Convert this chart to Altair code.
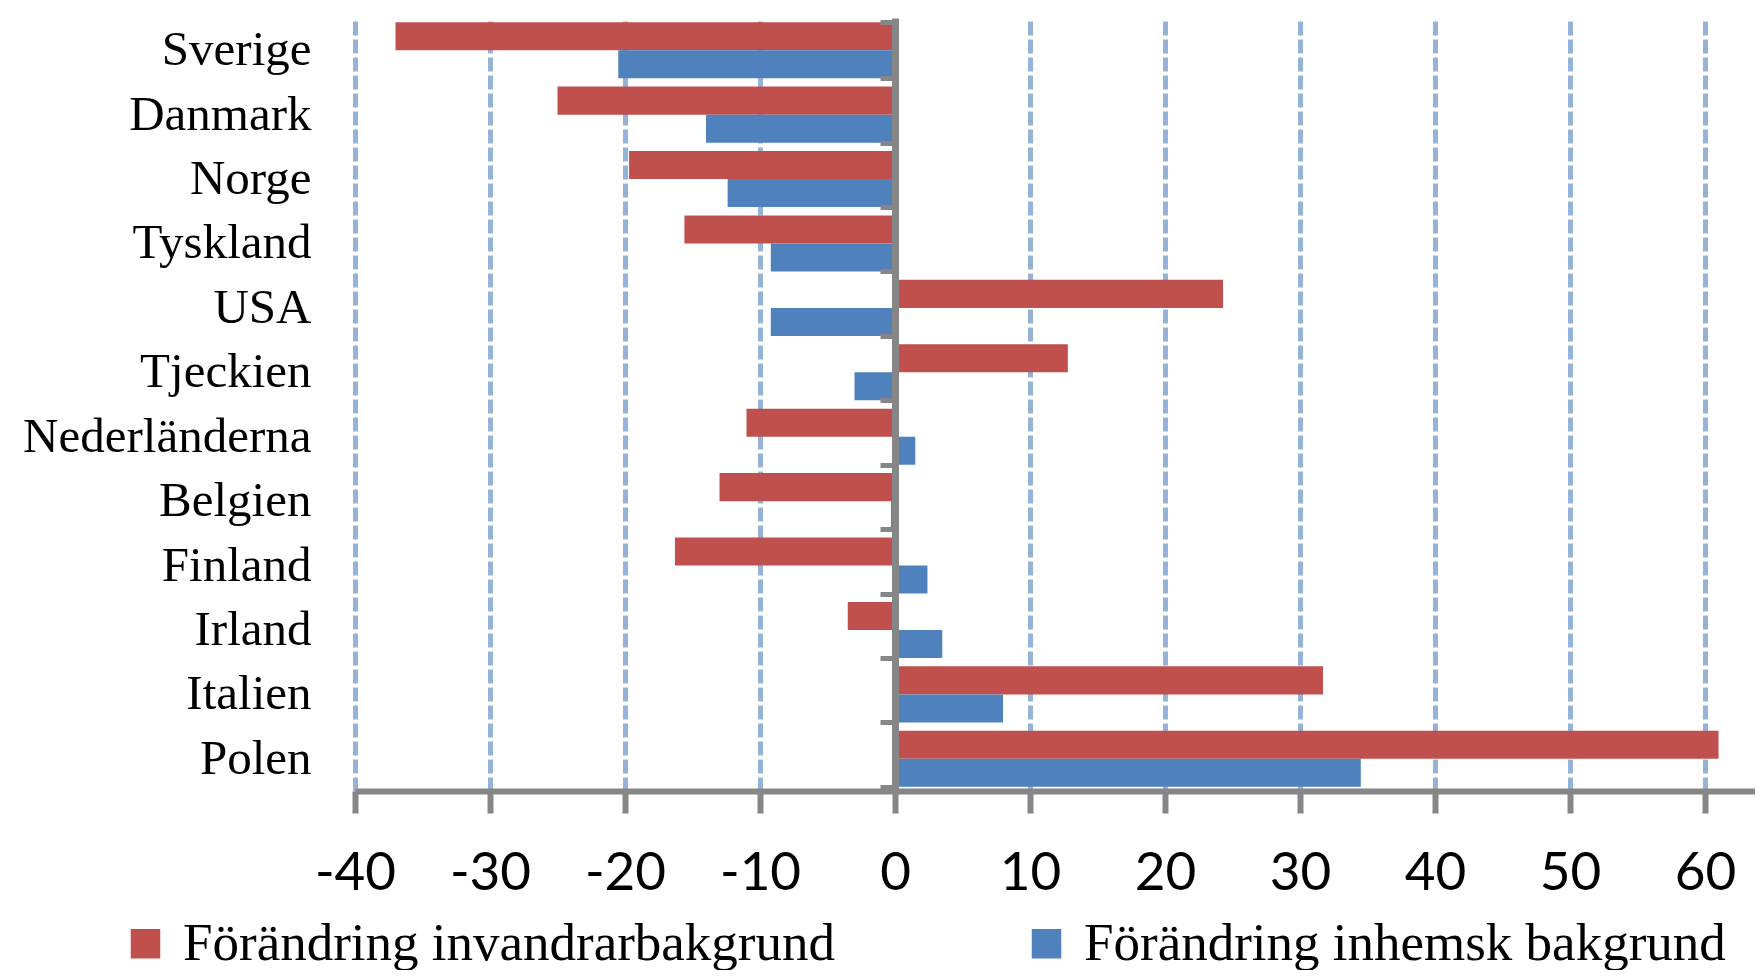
import altair as alt
import pandas as pd

countries = ["Sverige", "Danmark", "Norge", "Tyskland", "USA", "Tjeckien",
             "Nederländerna", "Belgien", "Finland", "Irland", "Italien", "Polen"]
series_names = ["Förändring invandrarbakgrund", "Förändring inhemsk bakgrund"]
invandrar = [-37.0, -25.0, -19.7, -15.6, 24.3, 12.8, -11.0, -13.0, -16.3, -3.5, 31.7, 61.0]
inhemsk = [-20.5, -14.0, -12.4, -9.2, -9.2, -3.0, 1.5, -0.3, 2.4, 3.5, 8.0, 34.5]
x_ticks = [-40, -30, -20, -10, 0, 10, 20, 30, 40, 50, 60]
colors = ["#C0504D", "#4F81BD"]

rows = []
for c, a, b in zip(countries, invandrar, inhemsk):
    rows.append({"Land": c, "Serie": series_names[0], "Varde": a})
    rows.append({"Land": c, "Serie": series_names[1], "Varde": b})
df = pd.DataFrame(rows)

y_scale = alt.Scale(paddingInner=0.13, paddingOuter=0.065)
x_scale = alt.Scale(domain=[-40, 63.7], nice=False, zero=False)
gray = "#868686"

bars = alt.Chart(df).mark_bar().encode(
    x=alt.X("Varde:Q", scale=x_scale,
            axis=alt.Axis(values=x_ticks, title=None, grid=True, gridColor="#95B3D7",
                          gridDash=[14, 4], gridWidth=5, domainColor=gray, domainWidth=6,
                          tickColor=gray, tickWidth=6, tickSize=22, labelFont="Lato",
                          labelFontSize=53, labelColor="black", labelPadding=34,
                          labelFlush=False, labelOverlap=False,
                          labelExpr="datum.value < 0 ? '-' + abs(datum.value) : '' + datum.value")),
    y=alt.Y("Land:N", sort=countries, scale=y_scale,
            axis=alt.Axis(title=None, ticks=False, domain=False, tickSize=0,
                          labelFont="Liberation Serif", labelFontSize=49,
                          labelColor="black", labelPadding=44, labelLimit=1000)),
    yOffset=alt.YOffset("Serie:N", sort=series_names,
                        scale=alt.Scale(paddingInner=0, paddingOuter=0)),
    color=alt.Color("Serie:N", sort=series_names,
                    scale=alt.Scale(domain=series_names, range=colors),
                    legend=alt.Legend(orient="none", legendX=-236, legendY=899,
                                      direction="horizontal", title=None,
                                      symbolType="square", symbolSize=870,
                                      symbolStrokeWidth=0, labelFont="Liberation Serif",
                                      labelFontSize=53, labelColor="black",
                                      labelLimit=1000, labelOffset=11,
                                      columnPadding=184, padding=0)),
)

zero_axis = alt.Chart(df).mark_point(opacity=0).encode(
    x=alt.value(0),
    y=alt.Y("Land:N", sort=countries, scale=y_scale,
            axis=alt.Axis(orient="left", offset=-540, title=None, labels=False,
                          domain=True, domainColor=gray, domainWidth=7,
                          ticks=True, tickBand="extent", tickOffset=-4.2,
                          tickColor=gray, tickWidth=5, tickSize=15,
                          grid=False, zindex=1)),
)

chart = alt.layer(bars, zero_axis).resolve_axis(y="independent").properties(
    width=1400, height=773,
    autosize=alt.AutoSizeParams(type="none"),
    padding={"left": 347, "top": 10, "right": 0, "bottom": 179},
    background="white",
).configure_view(stroke=None)

chart.save("out.html", embed_options={"renderer": "svg", "actions": False})
